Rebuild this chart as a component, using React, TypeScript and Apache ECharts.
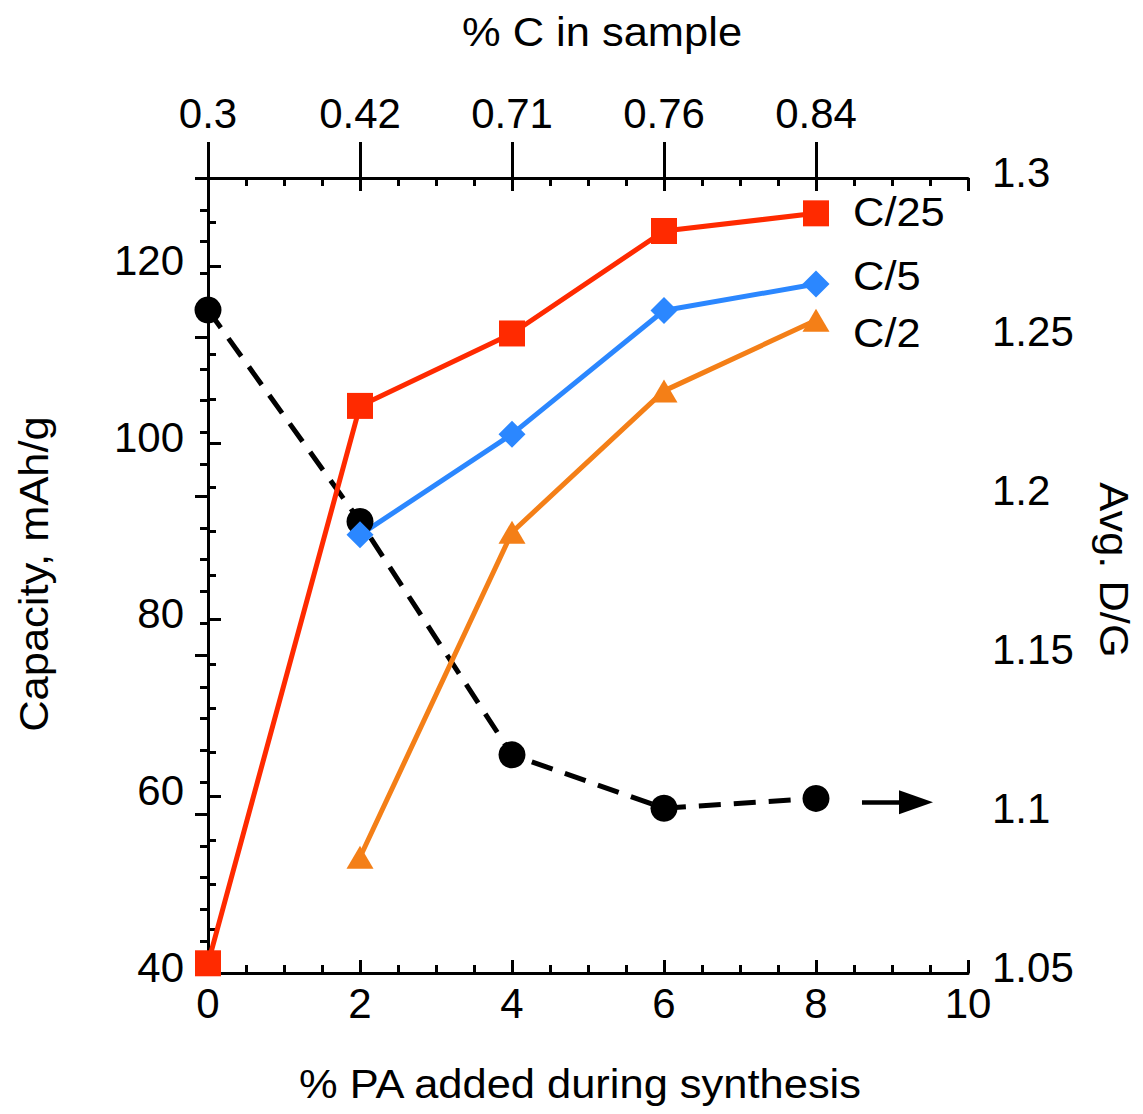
import React, { useEffect, useRef } from "react";
import * as echarts from "echarts";

// ---- data ----
const paAdded = [0, 2, 4, 6, 8];
const carbonLabels = ["0.3", "0.42", "0.71", "0.76", "0.84"];
const c25X = [0, 2, 4, 6, 8];
const c25 = [41.1, 104.2, 112.4, 124.0, 126.0];
const c5X = [2, 4, 6, 8];
const c5 = [89.6, 101.0, 115.0, 118.0];
const c2X = [2, 4, 6, 8];
const c2 = [53.1, 89.9, 105.9, 113.9];
const dgX = [0, 2, 4, 6, 8];
const dg = [1.2585, 1.192, 1.1186, 1.1018, 1.1049];
const leftLabelValues = [40, 60, 80, 100, 120];
const seriesNames = ["C/25", "C/5", "C/2", "Avg. D/G"];
const arrowFrom = [8.605, 1.1037];
const arrowTo = [9.316, 1.1037];

const FONT = "'Liberation Sans', Arial, Helvetica, sans-serif";
const BLACK = "#000";
const RED = "#ff2a00";
const BLUE = "#2b87ff";
const ORANGE = "#f47f17";

const zip = (xs: number[], ys: number[]) => xs.map((x, i) => [x, ys[i]]);

export default function App() {
  const ref = useRef<HTMLDivElement>(null);

  useEffect(() => {
    if (!ref.current) return;
    const chart = echarts.init(ref.current, null, { renderer: "svg" });

    const axisLine = { show: true, lineStyle: { color: BLACK, width: 3 } };
    const labelStyle = { color: BLACK, fontSize: 42, fontFamily: FONT };
    const tickStyle = { color: BLACK, width: 3 };
    // vertical labels sit ~6px above their ticks in the reference
    const yLabelShift = { verticalAlign: "bottom", lineHeight: 12 };

    const textEl = (
      text: string,
      x: number,
      y: number,
      align: string,
      rotation = 0
    ) => ({
      type: "text",
      x,
      y,
      rotation,
      scaleX: 1.06,
      scaleY: 1,
      style: { text, font: `41px ${FONT}`, fill: BLACK, align, verticalAlign: "middle" },
    });

    const option: any = {
      animation: false,
      backgroundColor: "#fff",
      grid: {
        left: 208,
        top: 178,
        width: 760,
        height: 795,
        containLabel: false,
        outerBoundsMode: "none",
      },
      xAxis: [
        {
          type: "value",
          position: "bottom",
          min: 0,
          max: 10,
          interval: 2,
          axisLine,
          axisTick: { show: true, inside: true, length: 13, lineStyle: tickStyle },
          minorTick: { show: true, splitNumber: 4, length: 8, lineStyle: tickStyle },
          axisLabel: { ...labelStyle, margin: 9 },
          splitLine: { show: false },
          minorSplitLine: { show: false },
        },
        {
          type: "value",
          position: "top",
          min: 0,
          max: 10,
          interval: 2,
          axisLine,
          axisTick: {
            show: true,
            inside: false,
            length: 36,
            customValues: paAdded,
            lineStyle: tickStyle,
          },
          axisLabel: {
            ...labelStyle,
            margin: 44,
            customValues: paAdded,
            formatter: (v: number) => {
              const i = paAdded.indexOf(v);
              return i >= 0 ? carbonLabels[i] : "";
            },
          },
          splitLine: { show: false },
        },
        {
          type: "value",
          position: "top",
          offset: 0,
          min: 0,
          max: 10,
          interval: 2,
          axisLine: { show: false },
          axisTick: { show: true, inside: true, length: 13, lineStyle: tickStyle },
          minorTick: { show: true, splitNumber: 4, length: 8, lineStyle: tickStyle },
          axisLabel: { show: false },
          splitLine: { show: false },
        },
      ],
      yAxis: [
        {
          type: "value",
          position: "left",
          min: 40,
          max: 130,
          interval: 10,
          axisLine,
          axisTick: {
            show: true,
            inside: true,
            length: 13,
            customValues: leftLabelValues,
            lineStyle: tickStyle,
          },
          axisLabel: { ...labelStyle, ...yLabelShift, margin: 24, customValues: leftLabelValues },
          splitLine: { show: false },
        },
        {
          type: "value",
          position: "right",
          min: 1.05,
          max: 1.3,
          interval: 0.05,
          axisLine,
          axisTick: { show: true, inside: true, length: 13, lineStyle: tickStyle },
          minorTick: { show: true, splitNumber: 5, length: 8, lineStyle: tickStyle },
          axisLabel: { ...labelStyle, ...yLabelShift, margin: 24 },
          splitLine: { show: false },
          minorSplitLine: { show: false },
        },
        {
          type: "value",
          position: "left",
          offset: 0,
          min: 40,
          max: 130,
          interval: 5,
          axisLine: { show: false },
          axisTick: { show: true, inside: true, length: 8, lineStyle: tickStyle },
          axisLabel: { show: false },
          splitLine: { show: false },
        },
      ],
      series: [
        {
          name: seriesNames[3],
          type: "line",
          xAxisIndex: 0,
          yAxisIndex: 1,
          data: zip(dgX, dg),
          symbol: "circle",
          symbolSize: 27,
          clip: false,
          itemStyle: { color: BLACK },
          lineStyle: { color: BLACK, width: 5, type: [22, 13] },
          emphasis: { disabled: true },
          markLine: {
            silent: true,
            symbol: ["none", "triangle"],
            symbolSize: [24, 34],
            lineStyle: { color: BLACK, width: 4.5, type: "solid" },
            label: { show: false },
            emphasis: { disabled: true },
            data: [[{ coord: arrowFrom }, { coord: arrowTo }]],
          },
        },
        {
          name: seriesNames[2],
          type: "line",
          xAxisIndex: 0,
          yAxisIndex: 0,
          data: zip(c2X, c2),
          symbol: "triangle",
          symbolSize: [27, 23],
          clip: false,
          itemStyle: { color: ORANGE },
          lineStyle: { color: ORANGE, width: 5 },
          emphasis: { disabled: true },
        },
        {
          name: seriesNames[1],
          type: "line",
          xAxisIndex: 0,
          yAxisIndex: 0,
          data: zip(c5X, c5),
          symbol: "diamond",
          symbolSize: 27,
          clip: false,
          itemStyle: { color: BLUE },
          lineStyle: { color: BLUE, width: 5 },
          emphasis: { disabled: true },
        },
        {
          name: seriesNames[0],
          type: "line",
          xAxisIndex: 0,
          yAxisIndex: 0,
          data: zip(c25X, c25),
          symbol: "rect",
          symbolSize: 26,
          clip: false,
          itemStyle: { color: RED },
          lineStyle: { color: RED, width: 5 },
          emphasis: { disabled: true },
        },
      ],
      graphic: [
        textEl("% C in sample", 602, 32, "center"),
        textEl("% PA added during synthesis", 580, 1084, "center"),
        textEl("Capacity, mAh/g", 34, 574, "center", Math.PI / 2),
        textEl("Avg. D/G", 1114, 570, "center", -Math.PI / 2),
        textEl(seriesNames[0], 853, 212, "left"),
        textEl(seriesNames[1], 853, 276, "left"),
        textEl(seriesNames[2], 853, 333, "left"),
      ],
    };

    chart.setOption(option);
    return () => chart.dispose();
  }, []);

  return (
    <div
      ref={ref}
      style={{ position: "absolute", left: 0, top: 0, width: 1143, height: 1114, background: "#fff" }}
    />
  );
}
